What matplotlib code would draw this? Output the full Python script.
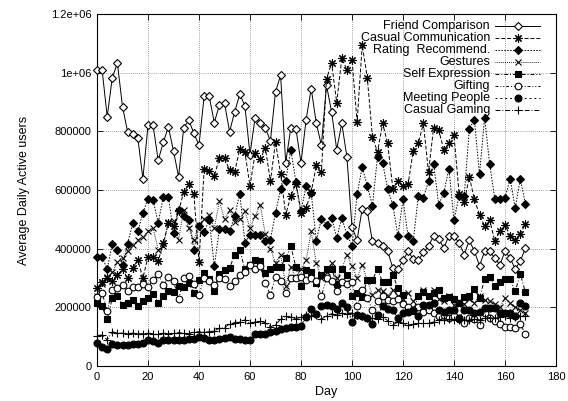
import numpy as np
import matplotlib
matplotlib.use("Agg")
import matplotlib.pyplot as plt

plt.rcParams['font.family'] = ['Liberation Sans', 'DejaVu Sans']
plt.rcParams['font.size'] = 8

# one sample every second day, values in thousands of users
days = np.arange(0, 170, 2)

friend_comparison = [
    1010, 1010, 850, 983, 1033, 884, 799, 790, 778, 639, 820, 820, 701, 763, 815, 733, 645, 812, 838, 793,
    753, 919, 919, 830, 889, 896, 799, 867, 927,
    887, 721, 847, 827, 812, 767, 934, 991, 693, 812, 809, 693, 839, 946, 827, 753, 957, 866, 738, 827, 713,
    473, 430, 536, 528, 425, 420, 408, 391,
    334, 331, 360, 391, 365, 360, 387, 408, 444, 433, 402, 444, 442, 420, 380, 428, 391, 342, 391, 391,
    368, 345, 391, 368, 331, 357, 402]
casual_communication = [
    266, 285, 300, 290, 310, 330, 300, 334, 362, 300, 372, 372, 357, 420, 488, 476, 528,
    593, 619, 585, 353, 670, 664, 647, 710, 709, 668, 662, 741,
    729, 613, 725, 704, 744, 630, 763, 656, 516, 579, 622, 522, 539, 593, 684, 661, 978, 1033, 898, 1049,
    1010, 1044, 832, 1094, 983, 782, 729, 827, 759, 605, 630,
    613, 620, 733, 759, 827, 661, 812, 805, 736, 759, 786, 588, 558, 645, 568, 516, 476, 497, 425, 460,
    482, 442, 428, 451, 484]
rating_recommend = [
    372, 372, 330, 417, 394, 345, 417, 486, 459, 522, 570, 565, 488, 577, 577, 454, 531, 510, 497, 397,
    476, 456, 499, 340, 467, 467, 459, 511, 588,
    420, 448, 448, 448, 425, 431, 522, 602, 630, 738, 627, 528, 613, 590, 427, 502, 482, 505, 437, 505,
    448, 410, 585, 679, 613, 547, 713, 693, 602, 550, 442,
    568, 442, 425, 579, 573, 630, 690, 550, 590, 672, 497, 581, 579, 809, 839, 653, 847, 687, 570, 570,
    573, 638, 539, 638, 553]
gestures = [
    240, 280, 303, 319, 353, 368, 391, 414, 428, 440, 459, 470, 397, 408, 490, 493, 431, 531, 470, 430,
    480, 500, 516, 470, 562, 500, 531, 490, 502,
    528, 470, 511, 550, 450, 400, 351, 380, 274, 337, 300, 330, 360, 459, 350, 300, 320, 350, 300, 330,
    380, 340, 300, 345, 290, 243, 260, 254, 240, 260, 240,
    230, 250, 220, 240, 260, 240, 260, 230, 220, 240, 209, 220, 210, 230, 215, 240, 225, 220, 210, 200,
    231, 215, 200, 190, 180]
self_expression = [
    216, 203, 160, 231, 237, 209, 214, 226, 205, 223, 231, 246, 216, 239, 257, 251, 274, 269, 283, 249,
    292, 317, 296, 254, 315, 326, 334, 380, 394,
    331, 345, 362, 357, 317, 331, 337, 337, 368, 408, 337, 274, 326, 322, 283, 311, 331, 331, 280, 331,
    311, 237, 249, 235, 294, 292, 331, 285, 285, 311, 266,
    243, 186, 186, 240, 251, 239, 249, 260, 231, 235, 228, 216, 235, 239, 262, 231, 296, 305, 274, 288,
    296, 296, 254, 315, 251]
gifting = [
    235, 249, 189, 260, 266, 277, 254, 271, 271, 280, 271, 294, 315, 277, 303, 290, 228, 300, 308, 280,
    243, 300, 290, 277, 300, 295, 274, 290, 311,
    320, 345, 330, 340, 283, 243, 305, 290, 249, 300, 300, 303, 294, 300, 290, 237, 300, 290, 254, 285,
    280, 285, 205, 260, 231, 191, 220, 240, 225, 220, 230,
    210, 200, 190, 200, 185, 190, 180, 169, 175, 165, 170, 160, 148, 165, 160, 140, 180, 165, 155, 144,
    134, 134, 129, 144, 109]
meeting_people = [
    78, 64, 57, 75, 72, 72, 73, 75, 75, 78, 87, 85, 80, 87, 88, 90, 88, 90, 93, 93,
    100, 95, 90, 88, 92, 95, 98, 92, 92,
    88, 87, 109, 108, 110, 117, 120, 125, 129, 132, 134, 137, 167, 194, 178, 205, 209, 205, 194, 215,
    201, 151, 174, 169, 165, 144, 175, 203, 195, 190, 163,
    180, 185, 191, 169, 209, 209, 216, 190, 185, 190, 190, 163, 190, 190, 180, 185, 197, 197, 197, 180,
    180, 180, 170, 216, 205]
casual_gaming = [
    103, 106, 89, 117, 112, 112, 110, 112, 110, 110, 112, 110, 108, 112, 110, 112, 114, 112, 110, 115,
    117, 115, 117, 120, 129, 130, 144, 148, 151,
    157, 146, 150, 152, 148, 134, 140, 160, 169, 168, 160, 166, 175, 172, 174, 160, 170, 178, 174, 180,
    178, 181, 175, 170, 165, 163, 160, 166, 155, 140, 150,
    145, 140, 142, 145, 145, 146, 150, 157, 157, 160, 158, 157, 157, 158, 160, 157, 162, 165, 165, 168,
    170, 165, 168, 172, 170]

labels = ["Friend Comparison", "Casual Communication", "Rating  Recommend.", "Gestures",
          "Self Expression", "Gifting", "Meeting People", "Casual Gaming"]
series = [friend_comparison, casual_communication, rating_recommend, gestures,
          self_expression, gifting, meeting_people, casual_gaming]

x_ticks = [0, 20, 40, 60, 80, 100, 120, 140, 160, 180]
y_ticks = [0, 200000, 400000, 600000, 800000, 1000000, 1200000]
y_tick_labels = ["0", "200000", "400000", "600000", "800000", "1e+06", "1.2e+06"]

# gnuplot-like styles: (linestyle, marker, markersize, facecolor)
styles = [
    ('-', 'D', 4.2, 'white'),
    ((0, (4, 2)), (8, 2, 0), 6.0, 'black'),
    ((0, (1.5, 1.5)), 'D', 3.6, 'black'),
    ((0, (0.8, 1.2)), 'x', 4.8, 'black'),
    ((0, (4, 2, 1, 2)), 's', 5.0, 'black'),
    ((0, (3, 2, 1, 2, 1, 2)), 'o', 4.8, 'white'),
    ((0, (2, 3)), 'o', 5.0, 'black'),
    ((0, (5, 2, 1, 2)), '+', 5.8, 'black'),
]

fig = plt.figure(figsize=(5.68, 4.01), dpi=100)
ax = fig.add_axes([97 / 568, 35 / 401, 459 / 568, 352 / 401])

for i, (vals, lab) in enumerate(zip(series, labels)):
    ls, mk, ms, mfc = styles[i]
    ax.plot(days, np.array(vals) * 1000, color='black', lw=0.7, linestyle=ls,
            marker=mk, markersize=ms, markerfacecolor=mfc, markeredgecolor='black',
            markeredgewidth=0.8, clip_on=False, zorder=3 + i)

# legend drawn gnuplot-style: right aligned text, sample line to the right
for i, lab in enumerate(labels):
    ls, mk, ms, mfc = styles[i]
    y = 0.967 - i * 0.0343
    ax.text(0.856, y, lab, transform=ax.transAxes, ha='right', va='center', fontsize=9, zorder=20)
    ax.plot([0.868, 0.917, 0.966], [y, y, y], transform=ax.transAxes, color='black', lw=0.7,
            linestyle=ls, marker=mk, markersize=ms, markerfacecolor=mfc, markeredgecolor='black',
            markeredgewidth=0.8, markevery=[1], zorder=20, clip_on=False)

ax.set_xlim(0, 180)
ax.set_ylim(0, 1200000)
ax.set_xticks(x_ticks)
ax.set_yticks(y_ticks)
ax.set_yticklabels(y_tick_labels)
ax.tick_params(direction='in', length=4, width=0.6, top=True, right=True, labelsize=8, pad=4)
ax.grid(True, color='0.3', linestyle=(0, (1, 2)), lw=0.5)
ax.set_axisbelow(True)
for s in ax.spines.values():
    s.set_linewidth(0.8)

ax.set_xlabel("Day", fontsize=9, labelpad=3)
ax.set_ylabel("Average Daily Active users", fontsize=9, labelpad=15)

fig.savefig("out.png", dpi=100)
